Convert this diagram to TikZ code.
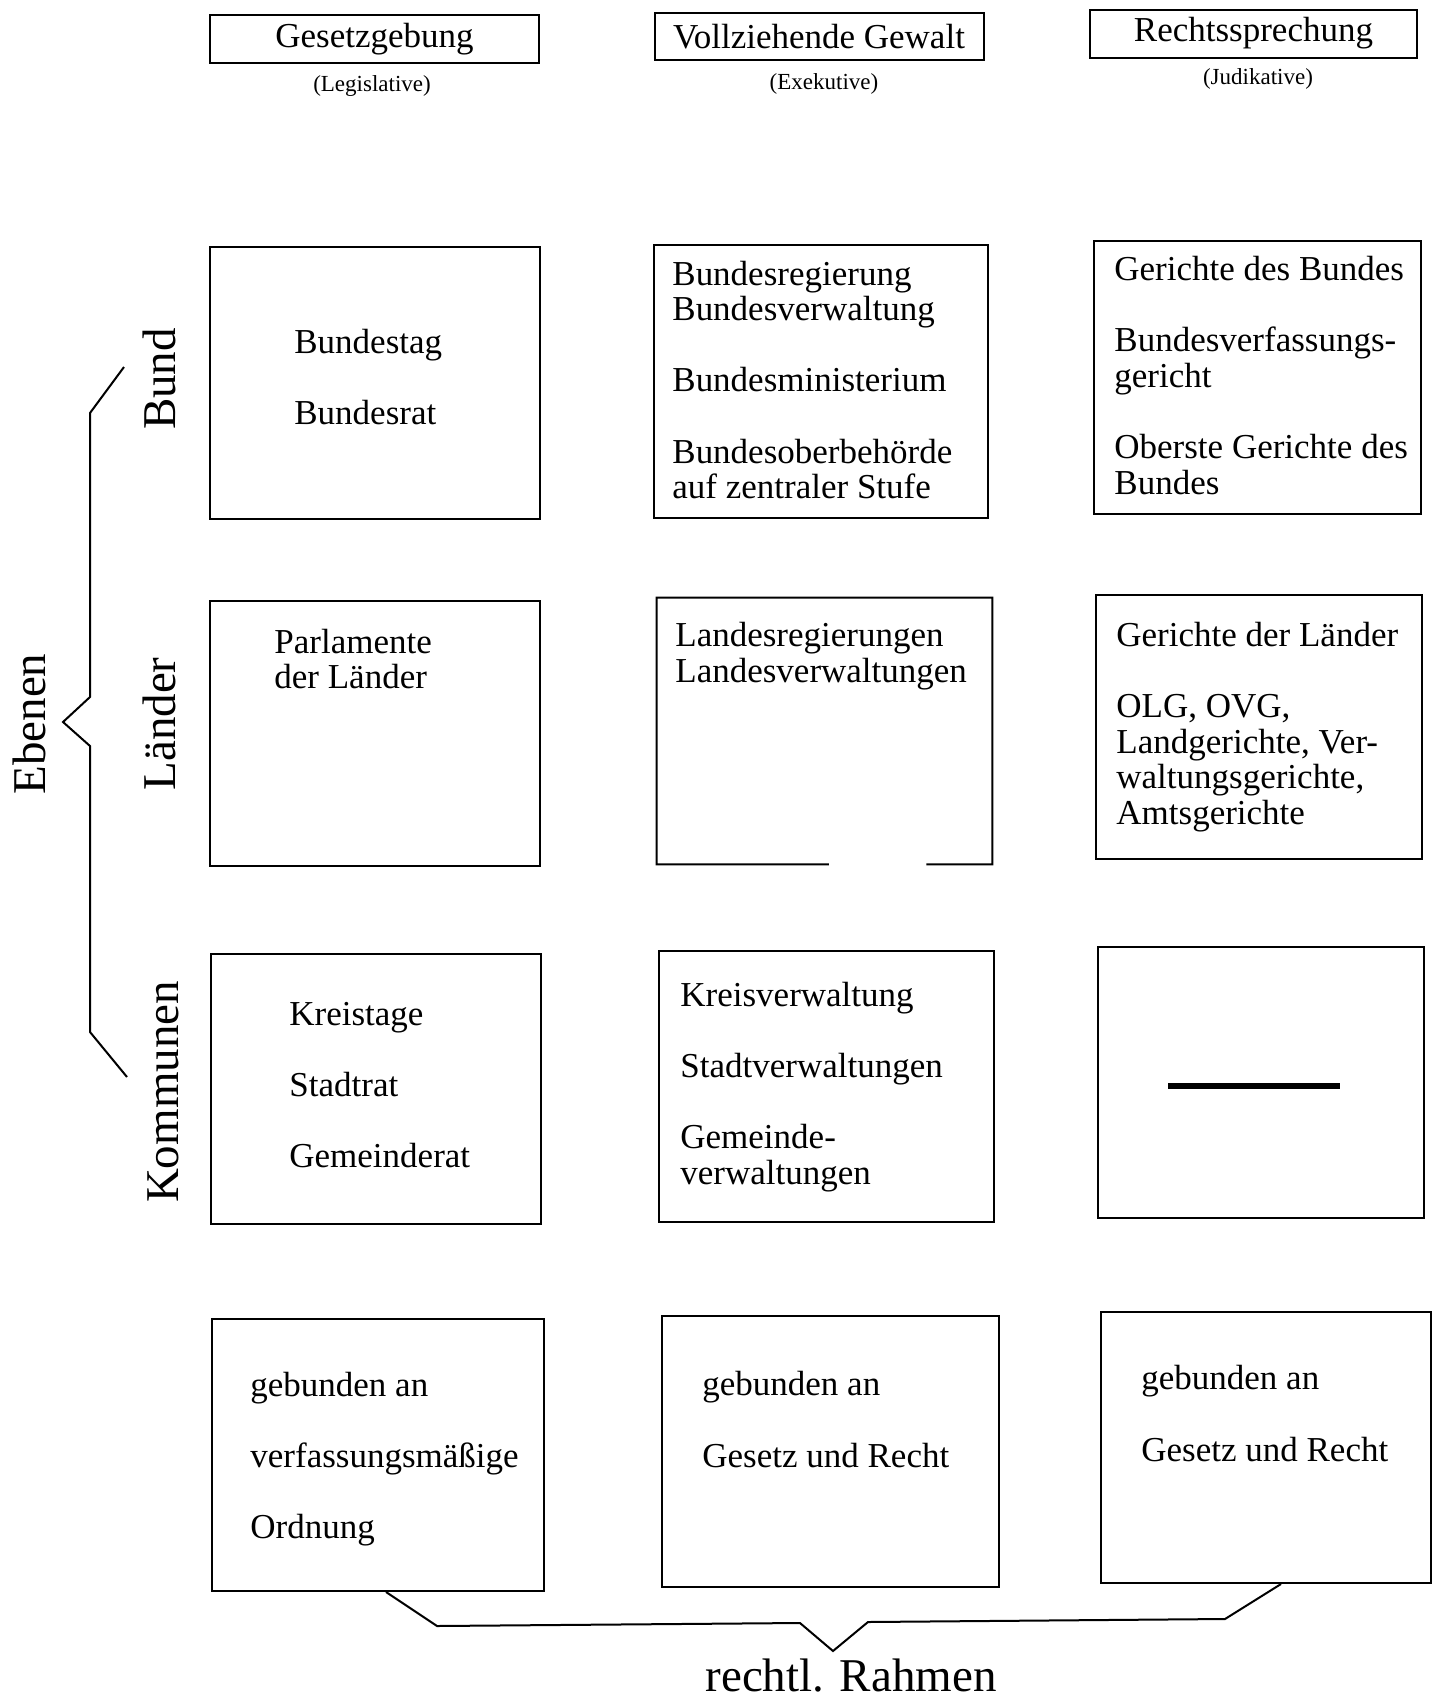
\documentclass[tikz,border=0pt]{standalone}
\usepackage{fontspec}
\setmainfont{Liberation Serif}
\usetikzlibrary{calc}
\newcommand\fbody{\fontsize{17.5pt}{17.8pt}\selectfont}
\newcommand\fsmall{\fontsize{11.5pt}{13pt}\selectfont}
\newcommand\fbig{\fontsize{23.5pt}{26pt}\selectfont}
\begin{document}
\begin{tikzpicture}[x=0.5pt,y=-0.5pt,
  cell/.style={draw, line width=1pt, inner sep=0pt},
  hbox/.style={draw, line width=1pt, inner sep=0pt, font=\fbody},
  txt/.style={anchor=west, align=left, inner sep=0pt, font=\fbody},
  lbl/.style={inner sep=0pt, font=\fsmall},
  side/.style={inner sep=0pt, font=\fbig, rotate=90},
  brace/.style={line width=1pt, line join=miter}]
\useasboundingbox (0,0) rectangle (1439,1699);

% header
\node[hbox, minimum width=164.5pt, minimum height=24pt] (hL) at (374.5,39) {\raisebox{-2pt}{Gesetzgebung}};
\node[hbox, minimum width=164.5pt, minimum height=23.5pt] (hE) at (819,36.5) {\raisebox{-1pt}{Vollziehende Gewalt}};
\node[hbox, minimum width=163.5pt, minimum height=24pt] (hJ) at (1253.5,33.5) {\raisebox{-1pt}{Rechtssprechung}};
\node[lbl] (lL) at (372,86) {(Legislative)};
\node[lbl] (lE) at (824,84) {(Exekutive)};
\node[lbl] (lJ) at (1258,79) {(Judikative)};

% row 1 (Bund)
\node[cell, minimum width=165pt, minimum height=136pt] (L1) at (375,383) {};
\node[cell, minimum width=167pt, minimum height=136.5pt] (E1) at (821,381.5) {};
\node[cell, minimum width=163.5pt, minimum height=136.5pt] (J1) at (1257.5,377.5) {};
\node[txt] (tL1) at (294,377) {Bundestag\\[17.8pt]Bundesrat};
\node[txt] (tE1) at (672,380) {Bundesregierung\\Bundesverwaltung\\[17.8pt]Bundesministerium\\[17.8pt]Bundesoberbehörde\\auf zentraler Stufe};
\node[txt] (tJ1) at (1114,375.5) {Gerichte des Bundes\\[17.8pt]Bundesverfassungs-\\gericht\\[17.8pt]Oberste Gerichte des\\Bundes};

% row 2 (Länder)
\node[cell, minimum width=165pt, minimum height=132.5pt] (L2) at (375,733.5) {};
\node[minimum width=167.5pt, minimum height=133pt, inner sep=0pt] (E2) at (824.5,731) {};
\draw[line width=1pt] ($(E2.south west)!0.513!(E2.south east)$) -- (E2.south west) -- (E2.north west) -- (E2.north east) -- (E2.south east) -- ($(E2.south west)!0.803!(E2.south east)$);
\node[cell, minimum width=163pt, minimum height=132pt] (J2) at (1259,727) {};
\node[txt] (tL2) at (274,659) {Parlamente\\der Länder};
\node[txt] (tE2) at (675,656) {Landesregierungen\\Landesverwaltungen};
\node[txt] (tJ2) at (1116,727) {Gerichte der Länder\\[17.8pt]OLG, OVG,\\Landgerichte, Ver-\\waltungsgerichte,\\Amtsgerichte};

% row 3 (Kommunen)
\node[cell, minimum width=165pt, minimum height=135pt] (L3) at (376,1089) {};
\node[cell, minimum width=167.5pt, minimum height=135.5pt] (E3) at (826.5,1086.5) {};
\node[cell, minimum width=163pt, minimum height=135.5pt] (J3) at (1261,1082.5) {};
\node[txt] (tL3) at (289,1085) {Kreistage\\[17.8pt]Stadtrat\\[17.8pt]Gemeinderat};
\node[txt] (tE3) at (680,1087) {Kreisverwaltung\\[17.8pt]Stadtverwaltungen\\[17.8pt]Gemeinde-\\verwaltungen};
\draw[line width=2.6pt] (1168,1086) -- (1340,1086);

% row 4
\node[cell, minimum width=166pt, minimum height=136pt] (L4) at (378,1455) {};
\node[cell, minimum width=168.5pt, minimum height=135.5pt] (E4) at (830,1451.5) {};
\node[cell, minimum width=165pt, minimum height=135.5pt] (J4) at (1266,1447.5) {};
\node[txt] (tL4) at (250,1459) {gebunden an\\[17.8pt]verfassungsmäßige\\[17.8pt]Ordnung};
\node[txt] (tE4) at (702,1419.5) {gebunden an\\[17.8pt]Gesetz und Recht};
\node[txt] (tJ4) at (1141,1413.5) {gebunden an\\[17.8pt]Gesetz und Recht};

% side labels
\node[side] (ebenen) at (29,724) {Ebenen};
\node[side] (bund) at (159,379) {Bund};
\node[side] (laender) at (159,724) {Länder};
\node[side] (kommunen) at (163,1092) {Kommunen};

% left brace
\coordinate (bt) at (124,367);
\coordinate (bb) at (127,1077);
\draw[brace] (bt) -- (90,413) -- (90,697) -- (63,722) -- (90,746) -- (90,1032) -- (bb);

% bottom brace
\node[inner sep=0pt, font=\fbig] (rahmen) at (851,1676) {rechtl. Rahmen};
\draw[brace] ($(L4.south)+(8,0)$) -- (437,1626) -- (800,1623) -- (833,1651) -- (868,1622) -- (1225,1619) -- ($(J4.south)+(15,0)$);
\end{tikzpicture}
\end{document}
